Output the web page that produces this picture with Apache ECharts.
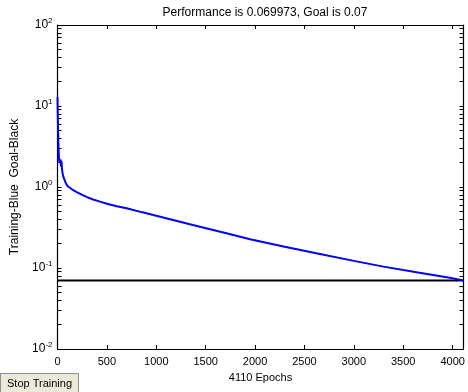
<!DOCTYPE html>
<html>
<head>
<meta charset="utf-8">
<script src="https://cdn.jsdelivr.net/npm/echarts@6/dist/echarts.min.js"></script>
<style>
  html, body { margin: 0; padding: 0; background: #fff; }
  #chart { width: 468px; height: 392px; }
</style>
</head>
<body>
<div id="chart"></div>
<script>
// training record
const epochs = [0, 3, 6, 10, 15, 20, 25, 30, 35, 40, 45, 50, 60, 80, 100, 150, 200, 250, 300, 360, 430, 500, 600, 700,
  850, 1040, 1370, 1710, 1950, 2300, 2620, 3000, 3300, 3650, 3970, 4110];
const perf = [12.9, 8, 5, 3.2, 2.3, 2.0, 1.9, 2.2, 1.8, 2.1, 1.7, 1.5, 1.33, 1.15, 1.03, 0.93, 0.86, 0.80, 0.75, 0.70, 0.66, 0.62, 0.58, 0.546,
  0.49, 0.43, 0.34, 0.268, 0.226, 0.183, 0.152, 0.1225, 0.104, 0.088, 0.0758, 0.069973];
const goal = 0.07;
const maxEpoch = 4110;
const yTicks = [0.01, 0.1, 1, 10, 100];
const minorTicks = [];
for (let d = 0.01; d < 100; d *= 10) {
  for (let k = 2; k <= 9; k++) minorTicks.push(+(d * k).toPrecision(3));
}
const allYTicks = yTicks.concat(minorTicks).sort((a, b) => a - b);

const FONT = '"Liberation Sans", Arial, sans-serif';
const chart = echarts.init(document.getElementById('chart'));

const sup = v => {
  const e = Math.round(Math.log10(v));
  return '{b|10}{e|' + e + '}';
};

const boxLine = { show: true, onZero: false, lineStyle: { color: '#000', width: 1.2 } };
const inTick = { show: true, inside: true, length: 4, lineStyle: { color: '#000', width: 1 } };

const option = {
  animation: false,
  backgroundColor: '#fff',
  title: {
    text: 'Performance is 0.069973, Goal is 0.07',
    left: 260, top: 2, textAlign: 'center',
    textStyle: { fontFamily: FONT, fontSize: 12, fontWeight: 'normal', color: '#000' }
  },
  grid: { left: 57.5, right: 4.5, top: 25, bottom: 43, containLabel: false, outerBoundsMode: 'none' },
  xAxis: [{
    type: 'value', min: 0, max: maxEpoch, interval: 500,
    name: maxEpoch + ' Epochs', nameLocation: 'middle', nameGap: 23,
    nameTextStyle: { fontFamily: FONT, fontSize: 11, color: '#000' },
    axisLine: boxLine, axisTick: inTick,
    axisLabel: { fontFamily: FONT, fontSize: 11, color: '#000', margin: 7, showMaxLabel: false,
      formatter: v => String(v) },
    splitLine: { show: false }
  }, {
    type: 'value', position: 'top', min: 0, max: maxEpoch, interval: 500,
    axisLine: boxLine, axisTick: inTick,
    axisLabel: { show: false }, splitLine: { show: false }
  }],
  yAxis: [{
    type: 'log', logBase: 10, min: yTicks[0], max: yTicks[yTicks.length - 1],
    name: 'Training-Blue  Goal-Black', nameLocation: 'middle', nameGap: 33,
    nameTextStyle: { fontFamily: FONT, fontSize: 12, color: '#000' },
    axisLine: boxLine,
    axisTick: Object.assign({ customValues: allYTicks }, inTick),
    axisLabel: {
      margin: 5, formatter: sup,
      rich: {
        b: { fontFamily: FONT, fontSize: 12, color: '#000', lineHeight: 16 },
        e: { fontFamily: FONT, fontSize: 8, color: '#000', verticalAlign: 'top', lineHeight: 16 }
      }
    },
    splitLine: { show: false }
  }, {
    type: 'log', logBase: 10, position: 'right', min: yTicks[0], max: yTicks[yTicks.length - 1],
    axisLine: boxLine,
    axisTick: Object.assign({ customValues: allYTicks }, inTick),
    // labels kept on (empty, inside) so the custom tick set is drawn
    axisLabel: { show: true, inside: true, formatter: () => '' }, splitLine: { show: false }
  }],
  series: [{
    type: 'line', name: 'Goal', symbol: 'none',
    data: [[0, goal], [maxEpoch, goal]],
    lineStyle: { color: '#000', width: 2 }
  }, {
    type: 'line', name: 'Training', symbol: 'none',
    data: epochs.map((e, i) => [e, perf[i]]),
    lineStyle: { color: '#0000ff', width: 2 }
  }],
  graphic: [{
    type: 'group', left: 0, top: 373,
    children: [
      { type: 'rect', shape: { x: 0, y: 0, width: 78, height: 19 },
        style: { fill: '#ece9d8', stroke: '#8f8f8f', lineWidth: 1 } },
      { type: 'text', x: 39, y: 10,
        style: { text: 'Stop Training', fontFamily: FONT, fontSize: 11, fill: '#000',
          align: 'center', verticalAlign: 'middle' } }
    ]
  }]
};

chart.setOption(option);
</script>
</body>
</html>
